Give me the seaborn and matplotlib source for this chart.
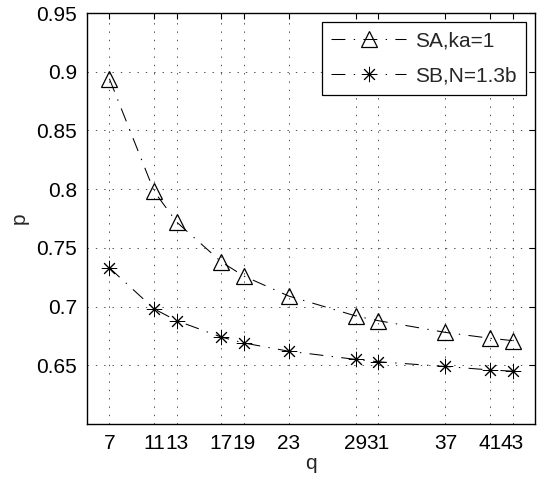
import matplotlib
matplotlib.use("Agg")
import matplotlib.pyplot as plt
import seaborn as sns
import pandas as pd

q_values = [7, 11, 13, 17, 19, 23, 29, 31, 37, 41, 43]
sa_values = [0.894, 0.798, 0.772, 0.738, 0.726, 0.709, 0.692, 0.688, 0.678, 0.673, 0.671]
sb_values = [0.733, 0.698, 0.688, 0.674, 0.669, 0.662, 0.655, 0.653, 0.649, 0.646, 0.645]
series_labels = ["SA,ka=1", "SB,N=1.3b"]
y_ticks = [0.65, 0.7, 0.75, 0.8, 0.85, 0.9, 0.95]
y_tick_labels = ["0.65", "0.7", "0.75", "0.8", "0.85", "0.9", "0.95"]

sns.set_style("white")
plt.rcParams["font.family"] = ["Liberation Sans", "DejaVu Sans"]
plt.rcParams["lines.scale_dashes"] = False

df_a = pd.DataFrame({"q": q_values, "p": sa_values})
df_b = pd.DataFrame({"q": q_values, "p": sb_values})

fig = plt.figure(figsize=(5.39, 4.83), dpi=100)
ax = fig.add_axes([87 / 539, 59 / 483, 448 / 539, 411 / 483])

dashdot = (0, (10, 6, 1, 6))
sns.lineplot(data=df_a, x="q", y="p", ax=ax, color="k", linewidth=0.75,
             linestyle=dashdot, marker="^", markersize=11.5,
             markerfacecolor="none", markeredgecolor="k", markeredgewidth=0.9,
             label=series_labels[0])
sns.lineplot(data=df_b, x="q", y="p", ax=ax, color="k", linewidth=0.75,
             linestyle=dashdot, marker=(8, 2, 0), markersize=11,
             markerfacecolor="none", markeredgecolor="k", markeredgewidth=0.7,
             label=series_labels[1])

ax.set_xlim(5, 45)
ax.set_ylim(0.6, 0.95)
ax.set_xticks(q_values)
ax.set_xticklabels([str(v) for v in q_values])
ax.set_yticks(y_ticks)
ax.set_yticklabels(y_tick_labels)

ax.grid(True, color="#333333", linestyle=(0, (1, 5)), linewidth=0.6)
ax.tick_params(direction="in", length=4, width=0.8, labelsize=15,
               top=True, right=True, pad=7, colors="k")
for s in ax.spines.values():
    s.set_visible(True)
    s.set_color("k")
    s.set_linewidth(1.0)

ax.set_xlabel("q", fontsize=15, labelpad=1)
ax.set_ylabel("p", fontsize=15, labelpad=6)

leg = ax.legend(loc="upper right", fontsize=15, frameon=True, fancybox=False,
                edgecolor="k", framealpha=1, borderaxespad=0.45,
                handlelength=3.6, handletextpad=0.4, borderpad=0.45,
                labelspacing=0.75)
leg.get_frame().set_linewidth(0.9)

fig.savefig("out.png", dpi=100)
